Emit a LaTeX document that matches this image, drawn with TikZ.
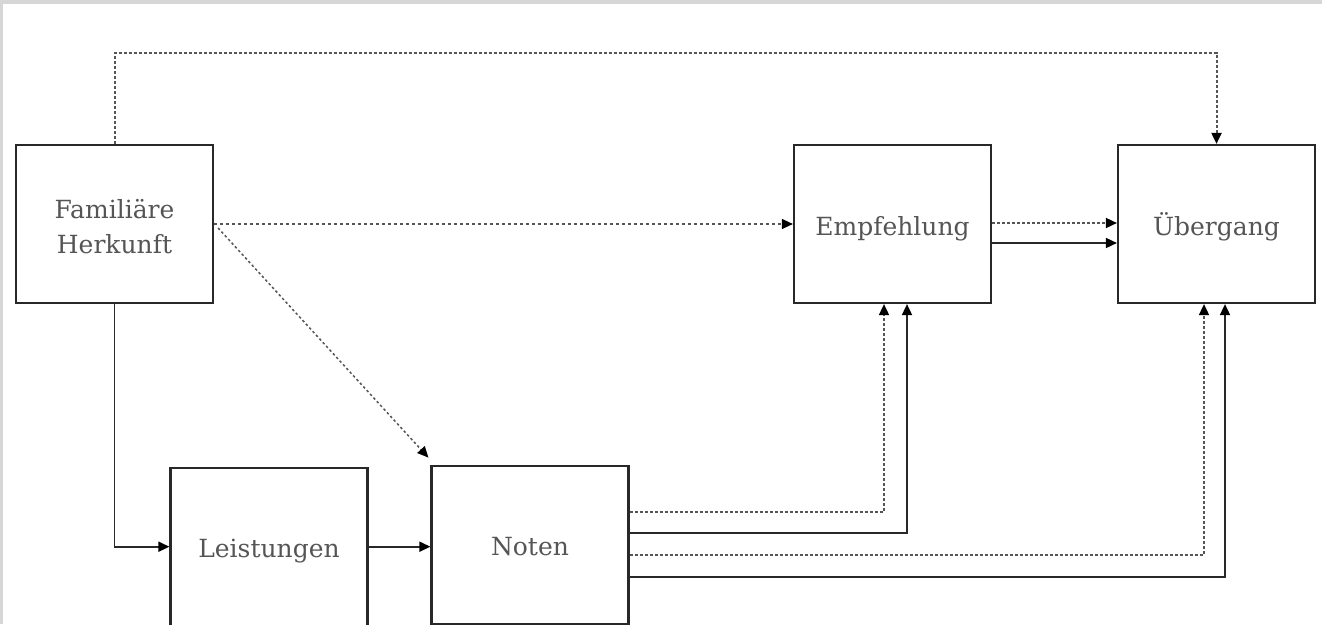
\documentclass[tikz,border=0pt]{standalone}
\usepackage{fontspec}
\setmainfont{DejaVu Serif}
\usetikzlibrary{arrows.meta}
\definecolor{txt}{RGB}{85,85,85}
\definecolor{ln}{RGB}{40,40,40}
\definecolor{dl}{RGB}{85,85,85}
\definecolor{framec}{RGB}{214,214,214}
\begin{document}
\begin{tikzpicture}[x=1pt,y=-1pt,
  box/.style={draw=ln,line width=2.2pt,minimum width=197pt,minimum height=158pt,inner sep=0pt,text=txt,font=\fontsize{25}{35}\selectfont},
  one/.style={text height=22pt,text depth=0pt},
  arr/.style={-{Triangle[length=11pt,width=10pt,color=black]},line width=1.7pt,draw=ln},
  dotline/.style={arr,draw=dl,dash pattern=on 3pt off 2pt}]
\useasboundingbox (0,0) rectangle (1322,624);
\fill[white] (0,0) rectangle (1322,624);
\fill[framec] (0,0) rectangle (1322,4);
\fill[framec] (0,0) rectangle (3,624);

\node[box,align=center,text height=58pt,text depth=0pt] (fam) at (114.5,224) {Familiäre\\Herkunft};
\node[box,one] (emp) at (892.5,224) {Empfehlung};
\node[box,one] (ueb) at (1216.5,224) {Übergang};
\node[box,one] (lei) at (269,546.7) {Leistungen};
\node[box,one] (not) at (530,544.7) {Noten};

% top route
\draw[dotline,line width=2pt] (fam.north) -- (fam.north |- 0,53) -| (ueb.north);
% Familiaere -> Empfehlung
\draw[dotline,line width=1.3pt,dash pattern=on 3pt off 3pt] (fam.east) -- (emp.west);
% Familiaere -> Noten
\draw[dotline,line width=1.5pt,dash pattern=on 2.5pt off 2.5pt] ([shift={(4,4)}]fam.east) -- ([shift={(-2,-7)}]not.north west);
% Familiaere -> Leistungen
\draw[arr] (fam.south) |- (lei.west);
% Leistungen -> Noten
\draw[arr] (lei.east) -- (lei.east -| not.west);
% Noten -> Empfehlung
\draw[dotline] (not.east |- 0,512) -| (emp.south -| 884,0);
\draw[arr] (not.east |- 0,533) -| (emp.south -| 907,0);
% Noten -> Uebergang
\draw[dotline] (not.east |- 0,555) -| (ueb.south -| 1204,0);
\draw[arr] (not.east |- 0,577) -| (ueb.south -| 1225,0);
% Empfehlung -> Uebergang
\draw[dotline] (emp.east |- 0,223) -- (ueb.west |- 0,223);
\draw[arr] (emp.east |- 0,243) -- (ueb.west |- 0,243);
\end{tikzpicture}
\end{document}
